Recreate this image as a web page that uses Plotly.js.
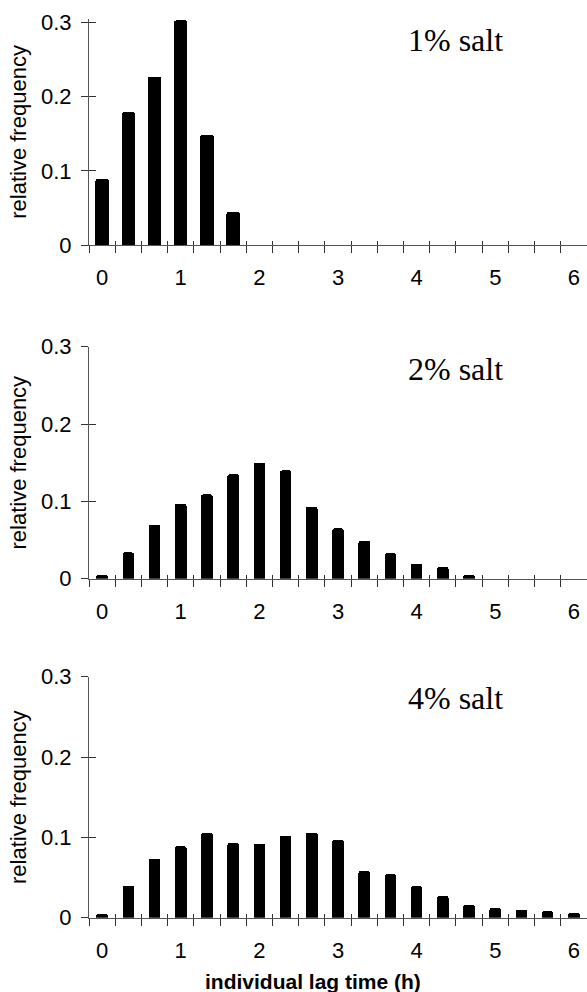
<!DOCTYPE html>
<html><head><meta charset="utf-8">
<script src="https://cdn.plot.ly/plotly-3.0.1.min.js"></script>
<style>html,body{margin:0;padding:0;background:#fff}</style>
</head><body><div id="chart" style="width:587px;height:992px"></div>
<script>
// individual lag time bins (h), 20-minute classes
const lagTimes = [0, 1/3, 2/3, 1, 4/3, 5/3, 2, 7/3, 8/3, 3, 10/3, 11/3, 4, 13/3, 14/3, 5, 16/3, 17/3, 6];
const salt1 = [0.089, 0.179, 0.227, 0.303, 0.149, 0.045, 0, 0, 0, 0, 0, 0, 0, 0, 0, 0, 0, 0, 0];
const salt2 = [0.005, 0.034, 0.070, 0.097, 0.109, 0.135, 0.150, 0.140, 0.093, 0.065, 0.049, 0.033, 0.019, 0.015, 0.005, 0, 0, 0, 0];
const salt4 = [0.005, 0.040, 0.073, 0.089, 0.106, 0.093, 0.092, 0.102, 0.106, 0.097, 0.058, 0.054, 0.039, 0.027, 0.016, 0.012, 0.010, 0.008, 0.006];
const panelLabels = ['1% salt', '2% salt', '4% salt'];
const xTickVals = [0, 1, 2, 3, 4, 5, 6];
const xTickText = ['0', '1', '2', '3', '4', '5', '6'];
const yTickVals = [0, 0.1, 0.2, 0.3];
const yTickText = ['0', '0.1', '0.2', '0.3'];
const yTitle = 'relative frequency';
const xTitle = 'individual lag time (h)';

const series = [salt1, salt2, salt4];
const barWidths = [0.17, 0.147, 0.147];
const yDomains = [[0.75302, 0.98095], [0.41663, 0.65050], [0.07490, 0.31784]];
const yRanges = [[0, 0.305], [0, 0.3], [0, 0.3]];
const labelY = [0.9592, 0.628, 0.2964];
const xRange = [-1/6, 6 + 1/6];
const sans = 'Liberation Sans, Arial, sans-serif';
const lineCol = '#555';
const tickCol = '#333';

const data = [];
const layout = {
  width: 587, height: 992,
  margin: {l: 89, r: 0, t: 0, b: 0},
  paper_bgcolor: '#fff', plot_bgcolor: '#fff',
  showlegend: false,
  bargap: 0,
  annotations: []
};

for (let i = 0; i < 3; i++) {
  const n = i + 1, o = i + 4;
  const xs = n === 1 ? '' : String(n), ys = xs;
  const xo = String(o), yo = String(o);
  data.push({type: 'bar', x: lagTimes, y: series[i], width: barWidths[i],
    marker: {color: '#000', line: {width: 0}, cornerradius: 2},
    xaxis: 'x' + xs, yaxis: 'y' + ys, hoverinfo: 'x+y'});
  // invisible carriers so the overlay (inside-tick) axes are drawn
  data.push({type: 'scatter', mode: 'none', x: lagTimes, y: series[i], xaxis: 'x' + xo, yaxis: 'y' + ys, hoverinfo: 'skip'});
  data.push({type: 'scatter', mode: 'none', x: lagTimes, y: series[i], xaxis: 'x' + xs, yaxis: 'y' + yo, hoverinfo: 'skip'});

  layout['xaxis' + xs] = {
    domain: [0, 1], anchor: 'y' + ys, range: xRange, autorange: false,
    tickmode: 'array', tickvals: xTickVals, ticktext: xTickText, ticks: '',
    ticklabelstandoff: 13,
    showline: true, linecolor: lineCol, linewidth: 1, showgrid: false, zeroline: false,
    tickfont: {family: sans, size: 22, color: '#000'},
    minor: {tickmode: 'linear', tick0: -1/6, dtick: 1/3, ticks: 'outside', ticklen: 7, tickwidth: 1, tickcolor: tickCol, showgrid: false},
    fixedrange: true
  };
  layout['xaxis' + xo] = {
    overlaying: 'x' + xs, anchor: 'y' + ys, side: 'bottom', range: xRange, autorange: false,
    tickmode: 'linear', tick0: -1/6, dtick: 1/3, ticks: 'inside', ticklen: 4, tickwidth: 1, tickcolor: tickCol,
    showticklabels: false, showline: false, showgrid: false, zeroline: false, fixedrange: true
  };
  layout['yaxis' + ys] = {
    domain: yDomains[i], anchor: 'x' + xs, range: yRanges[i], autorange: false,
    tickmode: 'array', tickvals: yTickVals, ticktext: yTickText,
    ticks: 'outside', ticklen: 7, tickwidth: 1, tickcolor: tickCol, ticklabelstandoff: 5,
    showline: true, linecolor: lineCol, linewidth: 1, showgrid: false, zeroline: false,
    tickfont: {family: sans, size: 22, color: '#000'},
    title: {text: yTitle, font: {family: sans, size: 22, color: '#000'}, standoff: 8},
    fixedrange: true
  };
  layout['yaxis' + yo] = {
    overlaying: 'y' + ys, anchor: 'x' + xs, side: 'left', range: yRanges[i], autorange: false,
    tickmode: 'array', tickvals: yTickVals, ticks: 'inside', ticklen: 7, tickwidth: 1, tickcolor: tickCol,
    showticklabels: false, showline: false, showgrid: false, zeroline: false, fixedrange: true
  };
  layout.annotations.push({
    text: panelLabels[i], xref: 'paper', yref: 'paper', x: 0.735, y: labelY[i],
    xanchor: 'center', yanchor: 'middle', showarrow: false,
    font: {family: 'Liberation Serif, Times New Roman, serif', size: 32, color: '#000'}
  });
}
layout.annotations.push({
  text: '<b>' + xTitle + '</b>', xref: 'paper', yref: 'paper', x: 0.45, y: 0.011,
  xanchor: 'center', yanchor: 'middle', showarrow: false,
  font: {family: sans, size: 21, color: '#000'}
});

Plotly.newPlot('chart', data, layout, {displayModeBar: false, staticPlot: true});
</script>
</body></html>
